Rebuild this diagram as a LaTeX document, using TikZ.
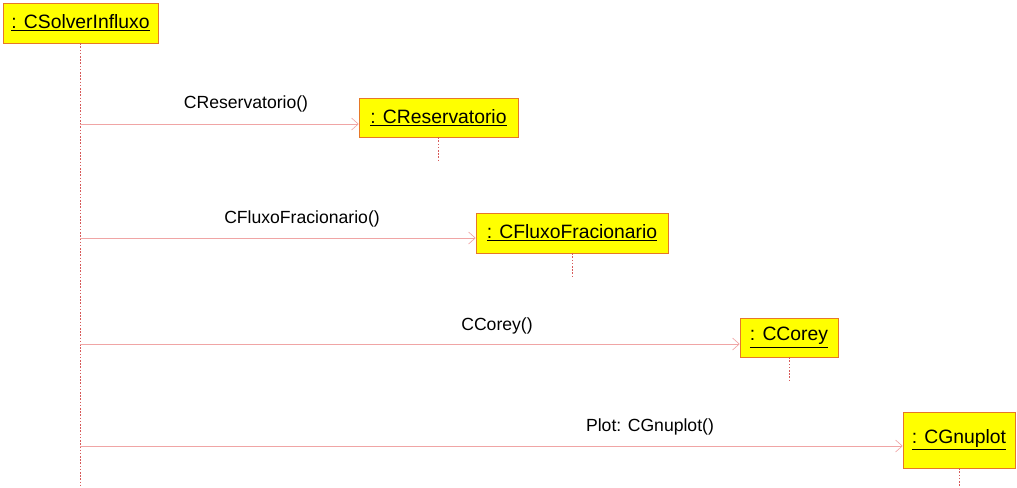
\documentclass[tikz,border=0pt]{standalone}
\usepackage{fontspec}
\setmainfont{Liberation Sans}
\usetikzlibrary{arrows.meta}

\definecolor{boxfill}{RGB}{255,255,0}
\definecolor{boxline}{RGB}{230,120,40}
\definecolor{lifered}{RGB}{215,90,90}
\definecolor{msgpink}{RGB}{240,165,165}

\tikzset{
  obj/.style={draw=boxline, fill=boxfill, inner sep=0pt, font=\fontsize{14.5}{16}\selectfont},
  lifeline/.style={draw=lifered, dash pattern=on 1.2pt off 1.2pt, line width=0.5pt},
  msg/.style={draw=msgpink, line width=0.5pt, -{Straight Barb[length=5pt,width=9pt]}},
  msglabel/.style={font=\fontsize{13.2}{15}\selectfont, inner sep=1pt}
}

\begin{document}
\begin{tikzpicture}[x=0.75pt,y=-0.75pt]
\useasboundingbox (0,0) rectangle (1017,487);

\node[obj, minimum width=116.25pt, minimum height=30pt] (solver) at (80.5,23) {\underline{: CSolverInfluxo}};
\node[obj, minimum width=119.25pt, minimum height=29.25pt] (reserv) at (438.5,117.5) {\underline{: CReservatorio}};
\node[obj, minimum width=144pt, minimum height=30pt] (fluxo) at (572,233) {\underline{: CFluxoFracionario}};
\node[obj, minimum width=73.5pt, minimum height=29.25pt] (corey) at (789,337.5) {\underline{: CCorey}};
\node[obj, minimum width=84pt, minimum height=42pt] (gnuplot) at (959,440) {\underline{: CGnuplot}};

% lifelines
\coordinate (sEnd) at (80,487);
\draw[lifeline] (solver.south) -- (solver.south |- sEnd);
\draw[lifeline] (reserv.south) -- ++(0,25);
\draw[lifeline] (fluxo.south) -- ++(0,24);
\draw[lifeline] (corey.south) -- ++(0,25);
\draw[lifeline] (gnuplot.south) -- (gnuplot.south |- sEnd);

% messages
\coordinate (m1) at (80,124);
\coordinate (m2) at (80,238);
\coordinate (m3) at (80,344);
\coordinate (m4) at (80,446);
\draw[msg] (m1) -- (m1 -| reserv.west);
\draw[msg] (m2) -- (m2 -| fluxo.west);
\draw[msg] (m3) -- (m3 -| corey.west);
\draw[msg] (m4) -- (m4 -| gnuplot.west);

\node[msglabel] (l1) at (246,104) {CReservatorio()};
\node[msglabel] (l2) at (302,219) {CFluxoFracionario()};
\node[msglabel] (l3) at (497,326) {CCorey()};
\node[msglabel] (l4) at (650,427) {Plot: CGnuplot()};

\end{tikzpicture}
\end{document}
